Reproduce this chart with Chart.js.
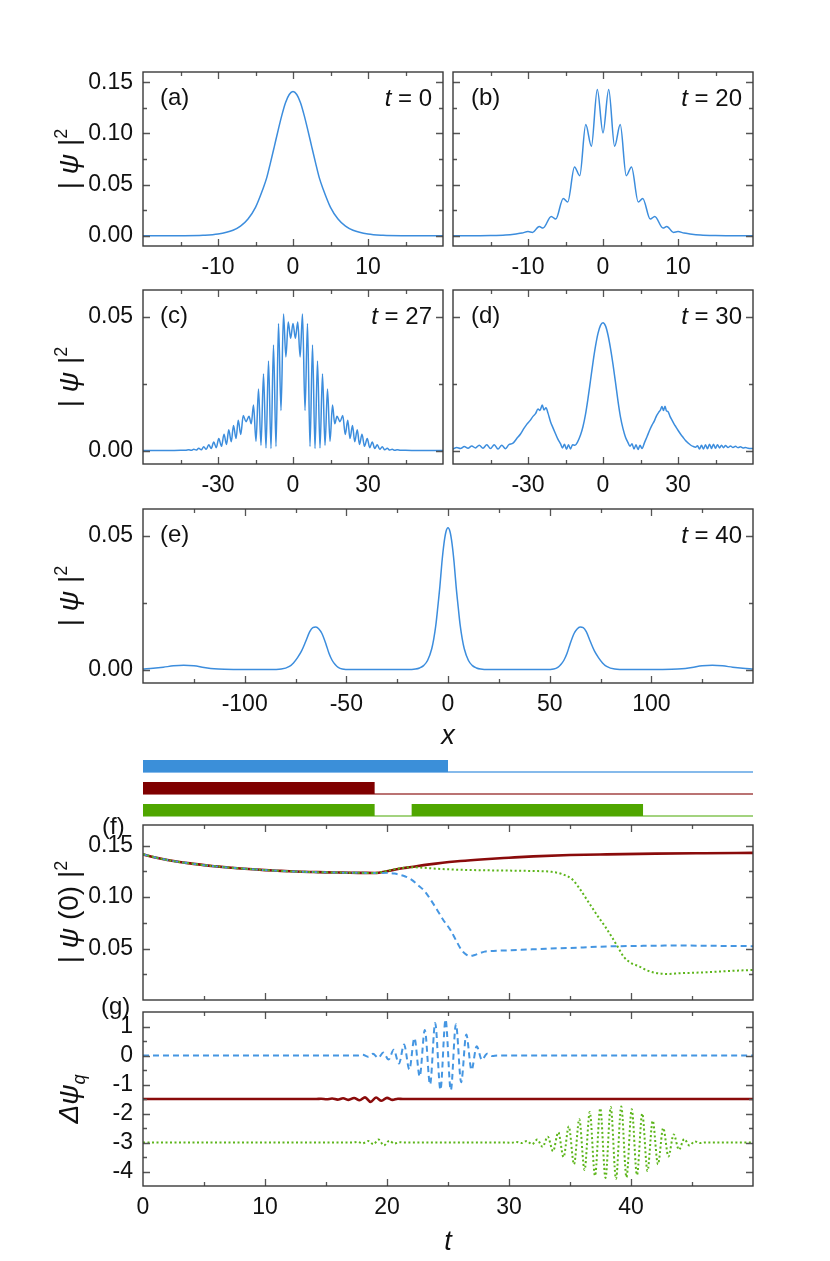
<!DOCTYPE html>
<html>
<head>
<meta charset="utf-8">
<script src="https://cdn.jsdelivr.net/npm/chart.js@4.4.1/dist/chart.umd.min.js"></script>
<style>
  html, body { margin: 0; padding: 0; background: #fff; }
  #fig { position: relative; width: 830px; height: 1261px; overflow: hidden; background: #fff; }
  #fig canvas { position: absolute; }
</style>
</head>
<body>
<div id="fig"></div>
<script>
/* ---------- data ---------- */

// (a) t = 0
const aX = [-20,-15,-12,-10,-8,-7,-6,-5,-4,-3.5,-3,-2.5,-2,-1.5,-1,-0.5,0,0.5,1,1.5,2,2.5,3,3.5,4,5,6,7,8,10,12,15,20];
const aPsi = [0,0.0001,0.0005,0.0017,0.0054,0.0094,0.0164,0.0278,0.046,0.0568,0.0715,0.0869,0.1025,0.1174,0.130,0.138,0.141,0.138,0.130,0.1174,0.1025,0.0869,0.0715,0.0568,0.046,0.0278,0.0164,0.0094,0.0054,0.0017,0.0005,0.0001,0];

// (b) t = 20
const bX = [-20,-15,-13,-11.6,-10.8,-10,-9.4,-8.5,-8,-6.9,-6.3,-5.3,-4.7,-3.8,-3.1,-2.3,-1.55,-0.76,0,0.76,1.55,2.3,3.1,3.8,4.7,5.3,6.3,6.9,8,8.5,9.4,10,10.8,11.6,13,15,20];
const bPsi = [0,0.0003,0.0008,0.0018,0.0026,0.0042,0.0033,0.0091,0.0075,0.0189,0.0163,0.0365,0.0330,0.0672,0.0587,0.1086,0.0874,0.1430,0.1005,0.1430,0.0874,0.1086,0.0587,0.0672,0.0330,0.0365,0.0163,0.0189,0.0075,0.0091,0.0033,0.0042,0.0026,0.0018,0.0008,0.0003,0];

// (c) t = 27
const cX = [-60,-50,-45,-43,-41.7,-40.7,-39.7,-38.7,-37.7,-36.7,-35.7,-34.7,-33.7,-32.7,-31.7,-30.7,-29.7,-28.6,-27.6,-26.6,-25.7,-24.7,-23.8,-22.8,-21.9,-20.9,-19.9,-18.8,-17.6,-16.7,-15.8,-14.8,-13.8,-12.8,-11.8,-10.8,-9.8,-8.8,-7.8,-6.8,-5.8,-4.8,-3.8,-2.85,-1.9,-0.95,
            0,
            0.95,1.9,2.85,3.8,4.8,5.8,6.8,7.8,8.8,9.8,10.8,11.8,12.8,13.8,14.8,15.8,16.7,17.6,18.8,19.9,20.9,21.9,22.8,23.8,24.7,25.7,26.6,27.6,28.6,29.7,30.7,31.7,32.7,33.7,34.7,35.7,36.7,37.7,38.7,39.7,40.7,41.7,43,45,50,60];
const cPsi = [0,0,0.0001,0.0001,0.0003,0.0001,0.0005,0.0002,0.0009,0.0003,0.0014,0.0005,0.0022,0.0008,0.0032,0.0011,0.0045,0.0016,0.0061,0.0023,0.0078,0.0033,0.0094,0.0045,0.0113,0.0060,0.0131,0.0108,0.0128,0.0100,0.0170,0.0035,0.0230,0.0020,0.0286,0.0010,0.0335,0.0008,0.0395,0.0015,0.0475,0.0150,0.0510,0.0350,0.0480,0.0420,
              0.0475,
              0.0420,0.0480,0.0350,0.0510,0.0150,0.0475,0.0015,0.0395,0.0008,0.0335,0.0010,0.0286,0.0020,0.0230,0.0035,0.0170,0.0100,0.0128,0.0108,0.0131,0.0060,0.0113,0.0045,0.0094,0.0033,0.0078,0.0023,0.0061,0.0016,0.0045,0.0011,0.0032,0.0008,0.0022,0.0005,0.0014,0.0003,0.0009,0.0002,0.0005,0.0001,0.0003,0.0001,0.0001,0,0];

// (d) t = 30
const dX = [-60,-58.5,-57,-55.5,-54,-52.5,-51,-49.5,-48,-46.5,-45,-43.5,-42,-40.5,-39,-37.7,-36,-34.5,-33,-31.7,-30.5,-29.2,-28,-27,-26,-25.2,-24.3,-23.6,-22.8,-22,-21,-20,-19,-18,-17,-16.2,-15.4,-14.6,-13.8,-13,-12.2,-11.2,-10.2,-9,-8,-7,-6,-5,-4,-3,-2,-1,
            0,
            1,2,3,4,5,6,7,8,9,10,10.8,11.6,12.4,13.2,14,14.8,15.6,16.6,17.6,18.6,19.6,20.6,21.4,22.2,23,23.6,24.2,24.8,25.4,26,26.8,27.6,28.4,29.2,30,31,32,33,34,35,36,37,37.8,38.6,39.4,40.2,41,41.8,42.6,43.4,44.2,45,45.8,46.6,47.4,48.2,49,50,51,52,53,54,55,56,57,58,60];
const dPsi = [0.0006,0.0012,0.0008,0.0015,0.0009,0.0017,0.0010,0.0020,0.0009,0.0022,0.0008,0.0022,0.0006,0.0020,0.0007,0.0022,0.0028,0.0045,0.0062,0.0082,0.0098,0.0112,0.0128,0.0138,0.0155,0.0150,0.0170,0.0152,0.0160,0.0140,0.0108,0.0085,0.0063,0.0042,0.0026,0.0010,0.0024,0.0005,0.0022,0.0006,0.0022,0.0020,0.0032,0.0058,0.0090,0.0135,0.0195,0.0262,0.0330,0.0390,0.0438,0.0468,
              0.0478,
              0.0466,0.0432,0.0382,0.0322,0.0255,0.0185,0.0125,0.0082,0.0050,0.0030,0.0016,0.0026,0.0006,0.0022,0.0004,0.0020,0.0008,0.0030,0.0052,0.0075,0.0095,0.0112,0.0130,0.0142,0.0152,0.0165,0.0150,0.0166,0.0148,0.0146,0.0128,0.0114,0.0100,0.0088,0.0076,0.0062,0.0050,0.0038,0.0029,0.0021,0.0016,0.0013,0.0018,0.0006,0.0020,0.0006,0.0022,0.0007,0.0024,0.0008,0.0024,0.0009,0.0022,0.0010,0.0020,0.0011,0.0019,0.0012,0.0017,0.0012,0.0016,0.0011,0.0014,0.0010,0.0012,0.0009,0.0008];

// (e) t = 40
const eX = [-150,-145,-140,-135,-130,-125,-120,-115,-110,-100,-88,-82,-78,-76,-74,-72,-70,-68,-66.5,-65,-63.5,-62,-60,-58.5,-57,-55.5,-54,-52,-48,-30,-20,-16,-14,-12,-10,-8,-7,-6,-5,-4,-3,-2,-1,
            0,
            1,2,3,4,5,6,7,8,10,12,14,16,20,30,48,52,54,55.5,57,58.5,60,62,63.5,65,66.5,68,70,72,74,76,78,82,88,100,110,115,120,125,130,135,140,145,150];
const ePsi = [0.0002,0.0005,0.0009,0.0014,0.0016,0.0014,0.0008,0.0003,0.0001,0,0,0.0002,0.0012,0.0025,0.0045,0.007,0.0105,0.0142,0.0157,0.0159,0.0152,0.0135,0.0095,0.006,0.0035,0.0019,0.0008,0.0002,0,0,0,0.0002,0.0006,0.0015,0.0035,0.0078,0.0115,0.0165,0.0235,0.031,0.040,0.047,0.0515,
              0.053,
              0.0515,0.047,0.040,0.031,0.0235,0.0165,0.0115,0.0078,0.0035,0.0015,0.0006,0.0002,0,0,0,0.0002,0.0008,0.0019,0.0035,0.006,0.0095,0.0135,0.0152,0.0159,0.0157,0.0142,0.0105,0.007,0.0045,0.0025,0.0012,0.0002,0,0,0.0001,0.0003,0.0008,0.0014,0.0016,0.0014,0.0009,0.0005,0.0002];

// gate bars above (f): [start, end] in t
const gateBlue = [[0, 25]];
const gateRed = [[0, 19]];
const gateGreen = [[0, 19], [22, 41]];

// (f) |psi(0)|^2 vs t ; identical for all three runs up to t = 19
const fEarlyT = [0,1,2,3,4,5,6,7,8,9,10,11,12,13,14,15,16,17,18,19];
const fEarly = [0.1415,0.1385,0.136,0.134,0.1325,0.131,0.1298,0.1287,0.1278,0.127,0.1262,0.1256,0.125,0.1246,0.1243,0.124,0.1238,0.1236,0.1235,0.1234];
const fRedT = [20,21,22,23,24,26,28,30,32,35,38,42,46,50];
const fRed = [0.125,0.1275,0.1292,0.131,0.1325,0.135,0.1368,0.1382,0.1395,0.1408,0.1415,0.1422,0.1426,0.1429];
const fBlueT = [20,20.6,21.5,22,22.5,23.1,23.6,24.1,24.6,25.2,25.7,26.1,26.5,26.8,27.2,28,29,31,33,35,38,41,44,47,50];
const fBlue = [0.1235,0.1228,0.120,0.117,0.112,0.1055,0.097,0.0877,0.078,0.068,0.057,0.0487,0.044,0.0428,0.0438,0.047,0.0478,0.0487,0.0498,0.0506,0.052,0.0526,0.0529,0.0526,0.0523];
const fGreenT = [20,21,22,23,24,26,28,30,32,33.5,34.3,35.2,35.8,36.3,36.8,37.3,37.9,38.4,38.9,39.4,40,40.7,41.3,41.9,42.5,43,44,45.5,47,48.5,50];
const fGreen = [0.1255,0.1278,0.129,0.1285,0.1276,0.1265,0.126,0.1257,0.1253,0.1245,0.1225,0.117,0.108,0.099,0.090,0.081,0.071,0.0617,0.052,0.042,0.036,0.0325,0.0288,0.0266,0.0256,0.0253,0.026,0.0266,0.0275,0.0284,0.0292];

// (g) delta psi_q vs t (curves offset by 0, -1.5, -3)
const gBlueT = [0,17.6,18.0,18.43,18.85,19.28,19.7,20.13,20.55,20.98,21.4,21.83,22.25,22.68,23.1,23.53,23.95,24.38,24.8,25.23,25.65,26.08,26.5,26.93,27.35,27.78,28.2,28.63,29.05,29.5,50];
const gBlue = [0,0,0.03,-0.04,0.06,-0.08,0.1,-0.14,0.2,-0.28,0.38,-0.48,0.6,-0.72,0.88,-1.0,1.12,-1.18,1.24,-1.2,1.08,-0.92,0.72,-0.5,0.32,-0.15,0.06,-0.02,0,0,0];
const gRedT = [0,14.2,14.6,15.05,15.5,15.95,16.4,16.85,17.3,17.75,18.2,18.65,19.1,19.55,20.0,20.45,20.9,21.3,50];
const gRed = [-1.5,-1.5,-1.49,-1.51,-1.485,-1.52,-1.475,-1.53,-1.465,-1.545,-1.445,-1.6,-1.45,-1.56,-1.46,-1.53,-1.49,-1.5,-1.5];
const gGreenT = [0,17.2,17.6,18.0,18.45,18.9,19.3,19.75,20.2,20.6,21.0,21.4,29.8,30.2,30.6,31.03,31.46,31.89,32.32,32.75,33.18,33.61,34.04,34.47,34.9,35.33,35.76,36.19,36.62,37.05,37.48,37.91,38.34,38.77,39.2,39.63,40.06,40.49,40.92,41.35,41.78,42.21,42.64,43.07,43.5,43.93,44.36,44.79,45.22,45.65,46.1,46.6,50];
const gGreen = [-3,-3,-2.98,-3.03,-2.95,-3.06,-2.9,-3.1,-2.94,-3.04,-2.99,-3,-3,-3.01,-2.98,-3.02,-2.95,-3.06,-2.9,-3.15,-2.8,-3.3,-2.65,-3.5,-2.45,-3.75,-2.2,-3.95,-1.95,-4.15,-1.82,-4.22,-1.78,-4.25,-1.76,-4.2,-1.85,-4.12,-2.0,-3.98,-2.25,-3.75,-2.5,-3.48,-2.72,-3.25,-2.88,-3.1,-2.96,-3.02,-3.0,-3,-3];

// tick labels
const ticksX20 = [-10, 0, 10];
const ticksX60 = [-30, 0, 30];
const ticksX150 = [-100, -50, 0, 50, 100];
const ticksT = [0, 10, 20, 30, 40];
const ticksPsiA = [0, 0.05, 0.10, 0.15];
const ticksPsiC = [0, 0.05];
const ticksPsiF = [0.05, 0.10, 0.15];
const ticksDq = [1, 0, -1, -2, -3, -4];

/* ---------- helpers ---------- */
const FONT = "'Liberation Sans', Arial, Helvetica, sans-serif";
const INK = '#111';
const C_BLUE = '#3c8ddd', C_RED = '#8a0b0b', C_GREEN = '#4fa600';

const xy = (xs, ys) => xs.map((x, i) => ({ x: x, y: ys[i] }));
const fix2 = v => v.toFixed(2);

function addCanvas(id, cv) {
  const c = document.createElement('canvas');
  c.id = id; c.width = cv.w; c.height = cv.h;
  c.style.left = cv.l + 'px'; c.style.top = cv.t + 'px';
  c.style.width = cv.w + 'px'; c.style.height = cv.h + 'px';
  document.getElementById('fig').appendChild(c);
  return c;
}

function axis(a, isX, size) {
  return {
    type: 'linear', min: a.min, max: a.max,
    grid: { display: false, drawTicks: false },
    border: { display: false },
    ticks: {
      display: !!a.labels, color: INK, padding: isX ? 8 : 10,
      font: { family: FONT, size: 23 }, maxRotation: 0, autoSkip: false,
      callback: v => (a.fmt ? a.fmt(v) : String(v)),
    },
    afterBuildTicks: s => { s.ticks = (a.labels || []).map(v => ({ value: v })); },
    afterFit: s => { if (isX) s.height = size; else s.width = size; },
  };
}

// rich text: segs = [[text, style]] ; style: 'i', 'sup', 'isub'
function drawRich(ctx, t, cv) {
  const size = t.size || 24;
  const parts = t.segs.map(([s, st = '']) => {
    const small = st.includes('sup') || st.includes('sub');
    const fs = small ? Math.round(size * 0.64) : size;
    const font = (st.startsWith('i') ? 'italic ' : '') + fs + 'px ' + FONT;
    ctx.font = font;
    const dy = st.includes('sup') ? -size * 0.4 : st.includes('sub') ? size * 0.24 : 0;
    return { s, font, dy, w: ctx.measureText(s).width };
  });
  const total = parts.reduce((acc, q) => acc + q.w, 0);
  ctx.save();
  ctx.translate(t.x - cv.l, t.y - cv.t);
  if (t.rot) ctx.rotate(-Math.PI / 2);
  let x = t.align === 'right' ? -total : t.align === 'left' ? 0 : -total / 2;
  ctx.fillStyle = INK;
  ctx.textBaseline = 'alphabetic';
  ctx.textAlign = 'left';
  parts.forEach(q => { ctx.font = q.font; ctx.fillText(q.s, x, q.dy); x += q.w; });
  ctx.restore();
}

function decor(p) {
  return {
    id: 'decor',
    afterDatasetsDraw(chart) {
      const { ctx, chartArea: a } = chart;
      ctx.save();
      if (p.frame !== false) {
        ctx.beginPath();
        ['x', 'y'].forEach(k => {
          const sc = chart.scales[k], s = p[k];
          const n0 = Math.ceil(s.min / s.minor - 1e-6), n1 = Math.floor(s.max / s.minor + 1e-6);
          for (let n = n0; n <= n1; n++) {
            const v = n * s.minor, r = v / s.major;
            const len = Math.abs(r - Math.round(r)) < 1e-6 ? 7 : 4;
            const px = Math.round(sc.getPixelForValue(v)) + 0.5;
            if (k === 'x') {
              if (px < a.left + 2 || px > a.right - 2) continue;
              ctx.moveTo(px, a.bottom); ctx.lineTo(px, a.bottom - len);
              ctx.moveTo(px, a.top); ctx.lineTo(px, a.top + len);
            } else {
              if (px < a.top + 2 || px > a.bottom - 2) continue;
              ctx.moveTo(a.left, px); ctx.lineTo(a.left + len, px);
              ctx.moveTo(a.right, px); ctx.lineTo(a.right - len, px);
            }
          }
        });
        ctx.strokeStyle = '#555'; ctx.lineWidth = 1.3; ctx.stroke();
        ctx.strokeStyle = '#3a3a3a'; ctx.lineWidth = 1.4;
        ctx.strokeRect(a.left, a.top, a.right - a.left, a.bottom - a.top);
      }
      (p.texts || []).forEach(t => drawRich(ctx, t, p.cv));
      ctx.restore();
    },
  };
}

function panel(p) {
  const el = addCanvas(p.id, p.cv);
  const leftW = p.box.l - p.cv.l, rightP = p.cv.l + p.cv.w - p.box.r;
  const topP = p.box.t - p.cv.t, bottomH = p.cv.t + p.cv.h - p.box.b;
  return new Chart(el, {
    type: 'line',
    data: { datasets: p.datasets },
    options: {
      responsive: false, animation: false, devicePixelRatio: 1,
      layout: { padding: { left: 0, right: rightP, top: topP, bottom: 0 } },
      plugins: { legend: { display: false }, tooltip: { enabled: false } },
      elements: { point: { radius: 0 } },
      scales: { x: axis(p.x, true, bottomH), y: axis(p.y, false, leftW) },
    },
    plugins: [decor(p)],
  });
}

function curve(data, color, extra) {
  return Object.assign({
    data: data, borderColor: color, backgroundColor: color, borderWidth: 1.5,
    pointRadius: 0, fill: false, cubicInterpolationMode: 'monotone',
  }, extra || {});
}

const psiTitle = y => ({ x: 78, y: y, rot: true, size: 28, segs: [['| '], ['ψ', 'i'], [' |'], ['2', 'sup']] });
const tLabel = (x, y, n) => ({ x: x, y: y, align: 'right', segs: [['t', 'i'], [' = ' + n]] });

/* ---------- panels ---------- */
// canvases reach >= 25 px beyond the plot box so label padding never moves it
const yTop = { min: -0.01, max: 0.16, major: 0.05, minor: 0.025 };
const yMid = { min: -0.005, max: 0.06, major: 0.05, minor: 0.025 };

panel({
  id: 'pa', cv: { l: 0, t: 40, w: 448, h: 250 }, box: { l: 143, t: 72, r: 443, b: 246 },
  x: { min: -20, max: 20, major: 10, minor: 5, labels: ticksX20 },
  y: Object.assign({ labels: ticksPsiA, fmt: fix2 }, yTop),
  datasets: [curve(xy(aX, aPsi), C_BLUE)],
  texts: [{ x: 160, y: 105, align: 'left', segs: [['(a)']] }, tLabel(432, 106, '0'), psiTitle(159)],
});

panel({
  id: 'pb', cv: { l: 448, t: 40, w: 382, h: 250 }, box: { l: 453, t: 72, r: 753, b: 246 },
  x: { min: -20, max: 20, major: 10, minor: 5, labels: ticksX20 },
  y: yTop,
  datasets: [curve(xy(bX, bPsi), C_BLUE)],
  texts: [{ x: 471, y: 105, align: 'left', segs: [['(b)']] }, tLabel(742, 106, '20')],
});

panel({
  id: 'pc', cv: { l: 0, t: 265, w: 448, h: 235 }, box: { l: 143, t: 290, r: 443, b: 464 },
  x: { min: -60, max: 60, major: 30, minor: 15, labels: ticksX60 },
  y: Object.assign({ labels: ticksPsiC, fmt: fix2 }, yMid),
  datasets: [curve(xy(cX, cPsi), C_BLUE)],
  texts: [{ x: 160, y: 323, align: 'left', segs: [['(c)']] }, tLabel(432, 324, '27'), psiTitle(377)],
});

panel({
  id: 'pd', cv: { l: 448, t: 265, w: 382, h: 235 }, box: { l: 453, t: 290, r: 753, b: 464 },
  x: { min: -60, max: 60, major: 30, minor: 15, labels: ticksX60 },
  y: yMid,
  datasets: [curve(xy(dX, dPsi), C_BLUE)],
  texts: [{ x: 471, y: 323, align: 'left', segs: [['(d)']] }, tLabel(742, 324, '30')],
});

panel({
  id: 'pe', cv: { l: 0, t: 484, w: 830, h: 271 }, box: { l: 143, t: 509, r: 753, b: 683 },
  x: { min: -150, max: 150, major: 50, minor: 25, labels: ticksX150 },
  y: Object.assign({ labels: ticksPsiC, fmt: fix2 }, yMid),
  datasets: [curve(xy(eX, ePsi), C_BLUE)],
  texts: [{ x: 160, y: 542, align: 'left', segs: [['(e)']] }, tLabel(742, 543, '40'), psiTitle(596),
          { x: 448, y: 744, size: 27, segs: [['x', 'i']] }],
});

// gate bars: one row per run; bar = on, thin line = off
function gateSets(gates, row, fillCol, lineCol) {
  const bars = gates.map(g => ({
    data: [{ x: g[0], y: row + 0.545 }, { x: g[1], y: row + 0.545 }],
    borderWidth: 0, borderColor: fillCol, backgroundColor: fillCol, pointRadius: 0, fill: { value: row },
  }));
  const base = { data: [{ x: 0, y: row }, { x: 50, y: row }], borderColor: lineCol, borderWidth: 1.5, pointRadius: 0, fill: false };
  return { bars, base };
}
const gB = gateSets(gateBlue, 2, '#3b8fd9', '#5ea3e4');
const gR = gateSets(gateRed, 1, '#7f0000', '#a34545');
const gG = gateSets(gateGreen, 0, '#4fa600', '#84c455');
panel({
  id: 'pbars', frame: false, cv: { l: 0, t: 748, w: 830, h: 77 }, box: { l: 143, t: 756, r: 753, b: 820 },
  x: { min: 0, max: 50, major: 10, minor: 5 },
  y: { min: -0.182, max: 2.727, major: 1, minor: 1 },
  datasets: [...gB.bars, ...gR.bars, ...gG.bars, gB.base, gR.base, gG.base],
});

panel({
  id: 'pf', cv: { l: 0, t: 798, w: 830, h: 227 }, box: { l: 143, t: 825, r: 753, b: 1000 },
  x: { min: 0, max: 50, major: 10, minor: 5 },
  y: { min: 0, max: 0.17, major: 0.05, minor: 0.025, labels: ticksPsiF, fmt: fix2 },
  datasets: [
    curve(xy(fEarlyT.concat(fGreenT), fEarly.concat(fGreen)), '#5cb51a', { borderWidth: 2, borderDash: [2, 2.5] }),
    curve(xy(fEarlyT.concat(fBlueT), fEarly.concat(fBlue)), '#4596e2', { borderWidth: 2, borderDash: [6, 4] }),
    curve(xy(fEarlyT.concat(fRedT), fEarly.concat(fRed)), C_RED, { borderWidth: 2.6 }),
  ],
  texts: [{ x: 102, y: 834, align: 'left', segs: [['(f)']] },
          { x: 78, y: 912, rot: true, size: 28, segs: [['| '], ['ψ', 'i'], [' (0) |'], ['2', 'sup']] }],
});

panel({
  id: 'pg', cv: { l: 0, t: 985, w: 830, h: 276 }, box: { l: 143, t: 1012, r: 753, b: 1186 },
  x: { min: 0, max: 50, major: 10, minor: 5, labels: ticksT },
  y: { min: -4.5, max: 1.5, major: 1, minor: 0.5, labels: ticksDq },
  datasets: [
    curve(xy(gGreenT, gGreen), '#5cb51a', { borderWidth: 2, borderDash: [2, 2.5] }),
    curve(xy(gBlueT, gBlue), '#4596e2', { borderWidth: 2, borderDash: [6, 4] }),
    curve(xy(gRedT, gRed), C_RED, { borderWidth: 2.6 }),
  ],
  texts: [{ x: 101, y: 1014, align: 'left', segs: [['(g)']] },
          { x: 78, y: 1099, rot: true, size: 28, segs: [['Δψ', 'i'], ['q', 'isub']] },
          { x: 448, y: 1250, size: 27, segs: [['t', 'i']] }],
});
</script>
</body>
</html>
